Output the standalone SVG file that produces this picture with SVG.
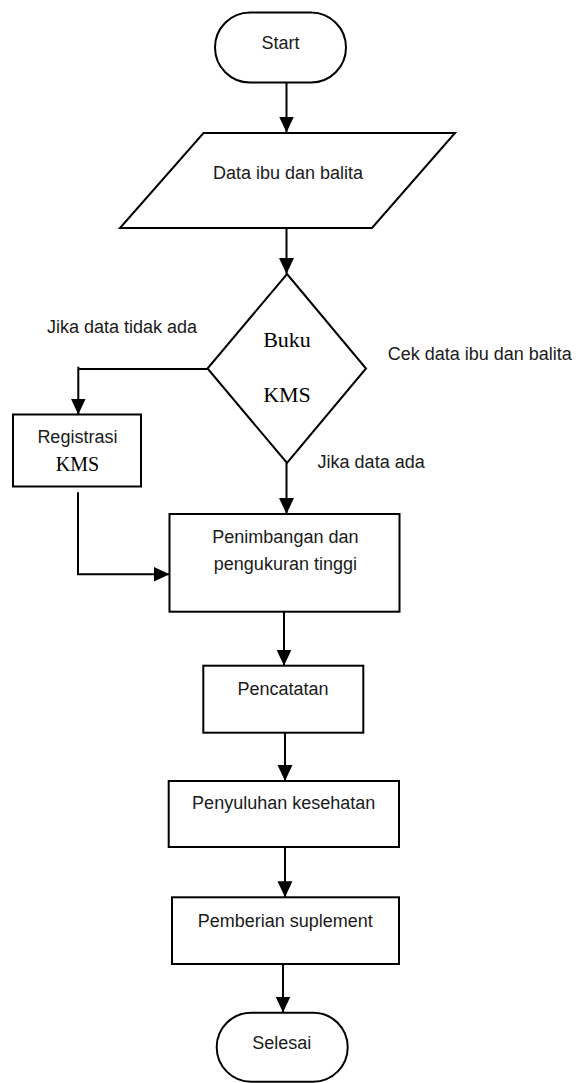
<svg xmlns="http://www.w3.org/2000/svg" width="576" height="1083" viewBox="0 0 576 1083">
<style>
.s{fill:#fff;stroke:#000;stroke-width:2}
.c{fill:none;stroke:#000;stroke-width:2}
.t{font-family:"Liberation Sans",Arial,sans-serif;font-size:18px;fill:#1a1a1a}
.m{text-anchor:middle}
.r{font-family:"Liberation Serif","Times New Roman",serif;fill:#000;text-anchor:middle}
</style>
<defs>
<marker id="ah" markerUnits="userSpaceOnUse" markerWidth="16" markerHeight="16" viewBox="0 0 15 14" refX="15" refY="7" orient="auto">
<path d="M0,0 L15,7 L0,14 Z" fill="#000"/>
</marker>
</defs>
<rect width="576" height="1083" fill="#fff"/>
<g id="connectors">
<path class="c" d="M286.5,82 V132.5" marker-end="url(#ah)"/>
<path class="c" d="M286.5,228 V274" marker-end="url(#ah)"/>
<path class="c" d="M207,369 H78.3 V366.7 M78.3,369 V414.5" marker-end="url(#ah)"/>
<path class="c" d="M78,492.3 V574.3 H169.5" marker-end="url(#ah)"/>
<path class="c" d="M286.5,463 V514" marker-end="url(#ah)"/>
<path class="c" d="M284,611.7 V665.7" marker-end="url(#ah)"/>
<path class="c" d="M285,732.7 V781" marker-end="url(#ah)"/>
<path class="c" d="M285,847 V897.3" marker-end="url(#ah)"/>
<path class="c" d="M283,964 V1012.5" marker-end="url(#ah)"/>
</g>
<g id="start">
<rect class="s" x="215" y="12.5" width="131" height="70" rx="35" ry="35"/>
<text class="t m" x="280.6" y="48.5">Start</text>
</g>
<g id="data">
<polygon class="s" points="203.5,133 455,133 372,228 120,228"/>
<text class="t m" x="288" y="179">Data ibu dan balita</text>
</g>
<g id="decision">
<polygon class="s" points="287,274 366,368.5 287,463 207.5,368.5"/>
<text class="r" x="287" y="347.3" font-size="22">Buku</text>
<text class="r" x="287" y="402.3" font-size="22">KMS</text>
</g>
<g id="labels">
<text class="t" x="47" y="333.3">Jika data tidak ada</text>
<text class="t" x="387.7" y="360">Cek data ibu dan balita</text>
<text class="t" x="317.6" y="468.3">Jika data ada</text>
</g>
<g id="registrasi">
<rect class="s" x="13" y="414.5" width="128" height="72"/>
<text class="t m" x="77.4" y="443.3">Registrasi</text>
<text class="r" x="77.4" y="470.7" font-size="20">KMS</text>
</g>
<g id="penimbangan">
<rect class="s" x="169.5" y="514" width="230" height="97.7"/>
<text class="t m" x="285.4" y="542.7">Penimbangan dan</text>
<text class="t m" x="285.4" y="570">pengukuran tinggi</text>
</g>
<g id="pencatatan">
<rect class="s" x="203.3" y="665.7" width="160" height="67"/>
<text class="t m" x="283" y="695">Pencatatan</text>
</g>
<g id="penyuluhan">
<rect class="s" x="168.7" y="781" width="230.3" height="66"/>
<text class="t m" x="283.7" y="809">Penyuluhan kesehatan</text>
</g>
<g id="pemberian">
<rect class="s" x="172" y="897.3" width="227" height="66.7"/>
<text class="t m" x="285.3" y="926.7">Pemberian suplement</text>
</g>
<g id="selesai">
<rect class="s" x="216.7" y="1012.7" width="131" height="69" rx="34.5" ry="34.5"/>
<text class="t m" x="281.7" y="1049">Selesai</text>
</g>
</svg>
